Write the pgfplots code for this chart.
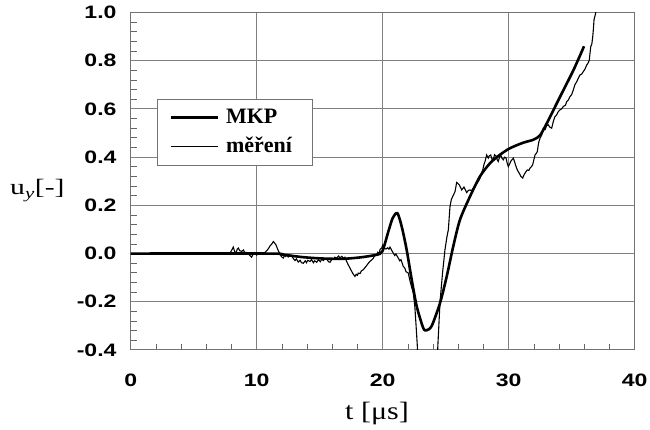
\documentclass[border=0pt]{standalone}
\usepackage{fontspec}
\usepackage{graphicx}
\setmainfont{Liberation Serif}
\newfontfamily\tickfont{Liberation Sans Bold}
\newfontfamily\xlabfont[FakeStretch=1.2]{Liberation Serif}
\newcommand\tl[1]{\scalebox{1.28}[1]{#1}}
\usepackage{pgfplots}
\pgfplotsset{compat=1.18}

\begin{document}
\begin{tikzpicture}
% page = 650 x 430 px, 1 px = 1 pt
\path[use as bounding box] (0,0) rectangle (650pt,430pt);
\begin{axis}[
  at={(130.7pt,80pt)}, anchor=south west,
  scale only axis, width=504pt, height=337.5pt,
  xmin=0, xmax=40, ymin=-0.4, ymax=1.0,
  xtick={0,10,20,30,40}, xticklabels={\tl{0},\tl{10},\tl{20},\tl{30},\tl{40}},
  ytick={-0.4,-0.2,0,0.2,0.4,0.6,0.8,1.0},
  yticklabels={\tl{-0.4},\tl{-0.2},\tl{0.0},\tl{0.2},\tl{0.4},\tl{0.6},\tl{0.8},\tl{1.0}},
  minor x tick num=4, minor y tick num=4,
  tick align=inside, tick pos=left,
  major tick length=0pt, minor tick length=6pt,
  every minor tick/.style={black!60, line width=0.8pt},
  grid=major, grid style={black!50, line width=1pt},
  axis line style={black!55, line width=1pt},
  tick label style={font=\fontsize{18}{21}\selectfont\tickfont},
  xticklabel style={anchor=north, inner sep=0pt, yshift=-24pt},
  yticklabel style={anchor=east, inner sep=0pt, xshift=-14pt},
  legend style={at={(rel axis cs:0.0522,0.7437)}, anchor=north west,
    draw=black!55, inner xsep=12pt, inner ysep=8pt,
    font=\fontsize{22}{26}\selectfont\bfseries,
    row sep=8pt, column sep=6pt,
    nodes={inner sep=1pt, text height=15pt, text depth=4pt},
    cells={anchor=west}},
]
% MKP (computed)
\addplot[black, line width=2.6pt, smooth, tension=0.45,
  legend image code/.code={\draw[black, line width=2.8pt] (0pt,0pt) -- (47pt,0pt);}]
 coordinates {
 (0,0) (11,0) (12,-0.004) (13.5,-0.014) (15,-0.02) (16.75,-0.022)
 (18.2,-0.016) (19.52,-0.005) (19.97,0.009) (20.44,0.09) (20.79,0.147)
 (21.16,0.168) (21.51,0.112) (21.9,0.016) (22.3,-0.108) (22.7,-0.219)
 (23.22,-0.309) (23.49,-0.318) (23.89,-0.30) (24.55,-0.205) (25.08,-0.095)
 (25.6,0.03) (26.13,0.14) (26.93,0.237) (27.72,0.32) (28.52,0.375)
 (29.31,0.41) (30.1,0.437) (31.16,0.46) (31.95,0.472) (32.48,0.49)
 (33.02,0.54) (34.07,0.65) (35.13,0.76) (35.98,0.86)
};
\addlegendentry{MKP}
% measurement
\addplot[black, line width=1.1pt,
  legend image code/.code={\draw[black, line width=1.3pt] (0pt,0pt) -- (47pt,0pt);}]
 coordinates {
 (7.80,-0.005) (8.01,0.013) (8.14,0.027) (8.25,0.008) (8.36,0.002)
 (8.45,0.018) (8.54,0.023) (8.65,0.012) (8.81,0.009) (8.95,0.015)
 (9.05,0.004) (9.21,0.005) (9.35,0.0) (9.45,-0.008) (9.60,-0.015)
 (9.70,-0.004) (9.87,0.002) (10.0,-0.006) (10.1,0.003) (10.26,-0.001)
 (10.4,0.004) (10.5,-0.003) (10.66,0.005) (10.8,0.012) (10.95,0.022)
 (11.06,0.032) (11.2,0.04) (11.32,0.05) (11.42,0.044) (11.53,0.036)
 (11.65,0.02) (11.75,0.008) (11.85,-0.001) (11.95,-0.012) (12.11,-0.019)
 (12.2,-0.008) (12.3,-0.012) (12.38,-0.005) (12.5,-0.014) (12.6,-0.006)
 (12.78,-0.009) (12.9,-0.02) (13.04,-0.029) (13.15,-0.022) (13.3,-0.035)
 (13.45,-0.028) (13.55,-0.038) (13.70,-0.04) (13.85,-0.03) (13.95,-0.038)
 (14.05,-0.028) (14.23,-0.033) (14.35,-0.025) (14.5,-0.038) (14.6,-0.03)
 (14.76,-0.036) (14.9,-0.026) (15.05,-0.034) (15.15,-0.024) (15.29,-0.029)
 (15.4,-0.022) (15.56,-0.023) (15.7,-0.034) (15.82,-0.036) (15.95,-0.025)
 (16.1,-0.022) (16.2,-0.015) (16.35,-0.019) (16.5,-0.01) (16.6,-0.018)
 (16.75,-0.012) (16.9,-0.02) (17.0,-0.015) (17.14,-0.033) (17.25,-0.045)
 (17.40,-0.06) (17.5,-0.07) (17.6,-0.08) (17.7,-0.088) (17.80,-0.095)
 (17.9,-0.086) (18.0,-0.09) (18.06,-0.081) (18.2,-0.083) (18.3,-0.072)
 (18.46,-0.067) (18.6,-0.058) (18.75,-0.048) (18.86,-0.04) (19.0,-0.032)
 (19.13,-0.026) (19.25,-0.02) (19.35,-0.01) (19.52,-0.005) (19.6,0.005)
 (19.7,0.0) (19.8,0.018) (19.92,0.023) (20.0,0.035) (20.1,0.022)
 (20.26,0.019) (20.4,0.024) (20.5,0.018) (20.58,0.027) (20.7,0.015)
 (20.84,0.002) (20.95,-0.008) (21.05,-0.002) (21.24,-0.019) (21.35,-0.03)
 (21.45,-0.025) (21.63,-0.053) (21.75,-0.06) (21.85,-0.075) (22.03,-0.081)
 (22.15,-0.11) (22.3,-0.14) (22.43,-0.164) (22.55,-0.22) (22.65,-0.3)
 (22.75,-0.385) (22.8,-0.45)
 (24.3,-0.45) (24.36,-0.40) (24.55,-0.2) (24.75,-0.08) (24.94,0.015)
 (25.1,0.07) (25.21,0.099) (25.34,0.195) (25.45,0.225) (25.56,0.237)
 (25.74,0.257) (25.87,0.295) (26.08,0.285) (26.27,0.264) (26.45,0.276)
 (26.67,0.253) (26.8,0.262) (26.93,0.264) (27.05,0.26) (27.19,0.271)
 (27.3,0.28) (27.46,0.292) (27.6,0.3) (27.72,0.313) (27.82,0.33)
 (27.94,0.347) (28.04,0.37) (28.12,0.382) (28.25,0.409) (28.38,0.396)
 (28.45,0.405) (28.57,0.409) (28.68,0.39) (28.78,0.392) (28.88,0.41)
 (28.99,0.405) (29.08,0.39) (29.17,0.382) (29.27,0.4) (29.36,0.409)
 (29.47,0.395) (29.57,0.389) (29.68,0.4) (29.79,0.396) (29.88,0.375)
 (29.97,0.361) (30.06,0.37) (30.16,0.382) (30.27,0.39) (30.37,0.396)
 (30.47,0.38) (30.58,0.361) (30.7,0.345) (30.84,0.333) (30.97,0.32)
 (31.11,0.313) (31.2,0.325) (31.29,0.333) (31.38,0.34) (31.48,0.347)
 (31.6,0.345) (31.69,0.354) (31.8,0.36) (31.90,0.368) (32.0,0.39)
 (32.09,0.409) (32.18,0.415) (32.27,0.423) (32.33,0.445) (32.40,0.465)
 (32.5,0.48) (32.62,0.492) (32.75,0.52) (32.9,0.515) (33.0,0.53)
 (33.14,0.534) (33.25,0.525) (33.41,0.52) (33.55,0.55) (33.67,0.568)
 (33.8,0.575) (33.95,0.59) (34.07,0.596) (34.2,0.6) (34.33,0.61)
 (34.5,0.615) (34.6,0.63) (34.73,0.637) (34.85,0.65) (35.0,0.66)
 (35.13,0.679) (35.25,0.7) (35.4,0.713) (35.5,0.725) (35.66,0.741)
 (35.8,0.745) (35.92,0.755) (36.05,0.765) (36.19,0.782) (36.3,0.79)
 (36.4,0.803) (36.45,0.83) (36.51,0.858) (36.6,0.87) (36.67,0.90)
 (36.72,0.93) (36.77,0.969) (36.9,0.997) (37.0,1.05)
};
\addlegendentry{měření\hspace*{7pt}}
\end{axis}
\node[anchor=base west, inner sep=0pt, font=\fontsize{22}{26}\selectfont]
  at (10pt,235pt) {\scalebox{1.35}[1]{u\textsubscript{\textit{y}}[-]}};
\node[anchor=base west, inner sep=0pt, font=\fontsize{25}{28}\selectfont\xlabfont]
  at (345pt,10pt) {t [μs]};
\end{tikzpicture}
\end{document}
